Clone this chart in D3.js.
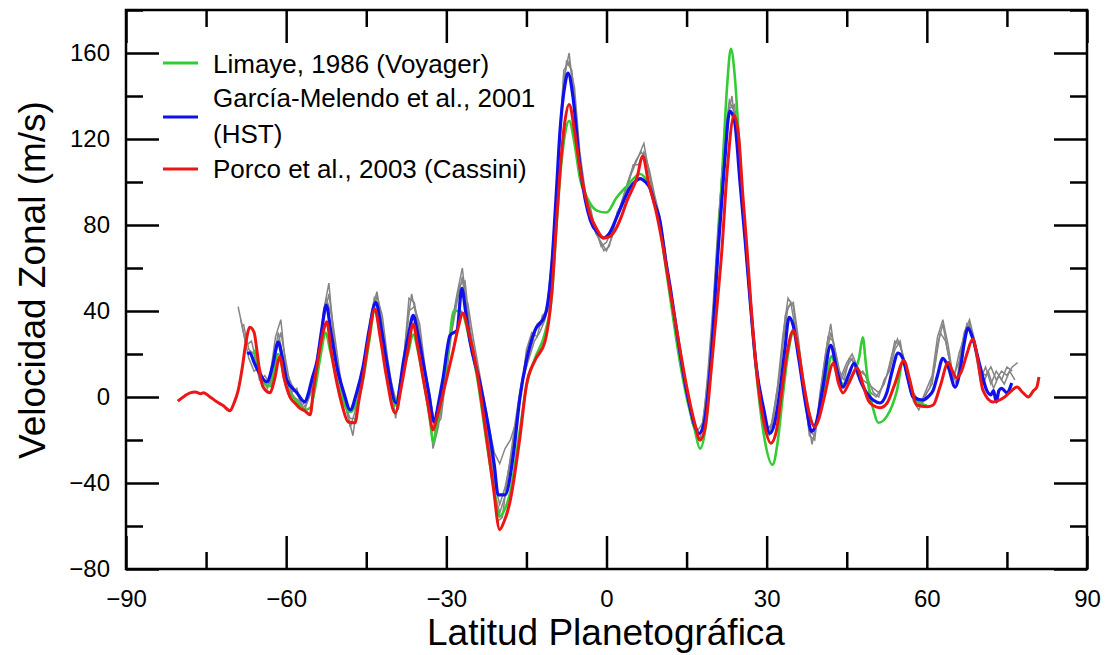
<!DOCTYPE html>
<meta charset="utf-8">
<style>
body { margin: 0; background: #fff; }
text { font-family: "Liberation Sans", Arial, sans-serif; fill: #000; }
.frame { fill: none; stroke: #000; stroke-width: 2.5px; }
.axis line { stroke: #000; stroke-width: 2.5px; }
.axis path { display: none; }
.axis text { font-size: 24px; }
</style>
<body>
<script src="https://cdnjs.cloudflare.com/ajax/libs/d3/7.8.5/d3.min.js"></script>
<script>
// ticks
var xMajor = [-90, -60, -30, 0, 30, 60, 90];
var xMinor = [-75, -45, -15, 15, 45, 75];
var yMajor = [-80, -40, 0, 40, 80, 120, 160];
var yMinor = [-60, -20, 20, 60, 100, 140, 180];

// Porco et al., 2003 (Cassini)  [lat, m/s]
var porco = [[-80.3,-1.9],[-79,0.5],[-78,1.9],[-77,2.3],[-76,1.5],[-75.5,2],[-74.5,0.5],[-73,-2.2],[-71.8,-4],[-70.5,-6.4],[-69.8,-3],[-69,3],[-68.2,14],[-67.5,26],[-66.8,32.5],[-66,30],[-65.5,22],[-64.8,9],[-64.3,4.6],[-63,2],[-62.2,8],[-61.2,18.6],[-60.4,9],[-59.3,0],[-58.3,-3],[-57.4,-5.3],[-56.5,-6.5],[-55.5,-8.3],[-54.9,3.2],[-54,18],[-53,31],[-52.4,35],[-51.6,22],[-50.5,6.5],[-49.5,-4],[-48.4,-11.6],[-47.1,-12],[-46.4,-2],[-45.6,9.3],[-44.6,26],[-43.4,41],[-42.4,28],[-41.2,9.3],[-39.6,-7.4],[-38.3,6.5],[-37.2,22],[-36.2,34],[-35.4,24],[-34.4,9.3],[-33.4,-4],[-32.5,-15.3],[-31.6,-8],[-30.6,1.9],[-28.7,21.8],[-27.8,32],[-26.9,39],[-25.8,30],[-24.3,12.5],[-22.4,-20],[-21.2,-42],[-20,-61.7],[-19.2,-58],[-18.1,-49],[-16.2,-18.5],[-15,5.5],[-13.4,17],[-11.5,26],[-10.2,50],[-9.4,80],[-8.7,105],[-7.8,128],[-7,136],[-6,124],[-5,106.7],[-4,94],[-3.1,85],[-1.8,78],[-0.6,74],[0.5,74.5],[1.6,77.5],[2.8,84],[3.8,91],[5.7,102],[6.8,112],[7.8,100.7],[9.4,85],[10.6,69.6],[12,48],[13.5,26],[15,5],[16.5,-12],[17.5,-20],[18.5,-14],[19.7,15],[20.8,45],[21.6,68],[22.6,105],[23.9,131],[24.8,120],[25.5,95],[26.3,69.6],[27,45],[28.2,10],[29.5,-12],[30.8,-21.5],[31.8,-16],[32.7,0],[33.8,20],[35,31],[35.8,24],[37,5],[38,-8],[39,-14],[39.8,-10],[40.8,0],[42.5,15.7],[43.5,6],[44.3,1.9],[45.5,7],[46.9,13.5],[48,6],[49,-1.4],[50,-4],[51.2,-5],[52.5,-3],[54,6],[55.7,17],[56.8,8],[58.1,-3.7],[60,-4.5],[61.2,-3.7],[62.5,5],[64,16],[64.8,12],[65.6,8.8],[66.5,12],[67.5,20],[68.6,27],[69.5,18],[70.5,3.2],[72.4,-2.3],[74.3,-0.5],[75.5,2],[76.9,4.6],[78,2],[79,0],[80,3],[80.6,4.6],[81,9.3]];

// García-Melendo et al., 2001 (HST)
var garcia = [[-67.3,20],[-66.8,20.5],[-66,16],[-65,11],[-63.6,7],[-62.5,15],[-61.5,25.5],[-60.7,18],[-59.9,8],[-58,2],[-56.5,-2.3],[-55.8,2],[-55.2,8],[-54.2,17],[-53.3,32],[-52.5,42.7],[-51.6,30],[-50.5,14],[-49.2,2],[-48,-6],[-46.8,2],[-45.6,14],[-44.4,32],[-43.2,44],[-42.2,32],[-41.2,17],[-39.4,-2.8],[-38,17],[-37,30],[-36.2,38],[-35.4,30],[-34.4,17],[-33.3,2],[-32.3,-11.6],[-31.4,-2],[-30.6,9],[-29.3,28.7],[-28,31],[-27.1,50.5],[-26.4,40],[-25.6,26.4],[-23.7,6.5],[-21.8,-18.5],[-21,-32],[-20.3,-45.5],[-19,-45.5],[-17.5,-27.8],[-16.2,0],[-15,17],[-13.4,31],[-11.5,38],[-10.2,63],[-9.4,95],[-8.7,124],[-7.8,145],[-7.2,150.7],[-6.3,140],[-5,108],[-4,92],[-3,82],[-1.5,76],[-0.6,74],[0.5,76],[1.9,83.5],[3,90],[4.4,97.4],[5.5,100.5],[6.3,101.6],[7.3,100],[8.1,97.4],[9,90],[10,82],[11,65],[12,50],[13.5,25],[15,3],[16.5,-13],[17.3,-17],[18.3,-12],[19.5,15],[20.9,68],[22,105],[23.1,133],[24,128],[25,100],[26,72],[27,42],[28,15],[29.4,-5],[30.6,-16.9],[31.5,-12],[32.5,3.2],[33.4,22],[34.2,37],[35,33],[36,18],[37.5,-6],[38.4,-16],[39.3,-12],[40.5,4],[42,24],[43.2,12],[44.3,4.6],[45.3,10],[46.4,15.7],[47.5,8],[49,0.9],[50,-1.5],[51.2,-2.8],[52.5,2],[53.5,12],[54.6,20.4],[55.5,18],[56.5,8],[57.4,0],[59.3,-1.4],[60.2,0],[61.2,3.2],[62,10],[63,18],[64,14],[65.3,4.6],[66.2,12],[67,25],[67.7,32],[68.5,28],[70,14],[71.2,3.2],[72,1],[72.5,3],[73,-2.3],[73.5,3],[74,4],[75,2],[75.9,6.5]];

// Limaye, 1986 (Voyager)
var limaye = [[-66,22],[-64.5,8],[-63,5],[-61.5,20],[-60,5],[-58,-2],[-56.5,-6],[-55.5,-5],[-54.5,5],[-53.5,20],[-52.6,30],[-51.8,22],[-50.5,8],[-49,-4],[-48,-7],[-47,-4],[-45.6,8],[-44.5,25],[-43.4,40],[-42.3,28],[-41,8],[-39.6,-4],[-38.5,8],[-37.2,20],[-36.2,29],[-35.2,20],[-34,4],[-33,-12],[-32.5,-21],[-31.7,-12],[-30.6,4],[-29.5,25],[-28.6,40],[-27.5,40],[-26.8,38],[-25.8,28],[-24.3,10],[-22.4,-22],[-21,-44],[-20,-55.6],[-19.2,-53],[-18,-44],[-16.2,-15],[-15,5],[-13.4,18],[-11.5,30],[-10.2,48],[-9.4,78],[-8.7,102],[-7.8,122],[-7,128.5],[-6,118],[-5,102],[-3.5,92],[-1.8,86.7],[0,85.8],[1.9,92.8],[3.8,98],[6.3,103.7],[8.1,97.4],[10,79],[11,62],[12,45],[13.5,20],[15,0],[16.5,-15],[17.5,-24],[18.5,-15],[19.7,20],[20.8,65],[21.8,110],[22.6,145],[23.3,162],[24,150],[24.8,120],[25.5,92],[26.3,65],[27,42],[28.2,8],[29.5,-18],[31.1,-31.5],[32,-22],[33,0],[34,20],[35,30],[35.8,24],[37,5],[38.2,-10],[39,-14],[40,-6],[41,6],[42.2,19],[43.2,10],[44.5,6],[45.5,8],[46.5,12],[47.3,18],[48,27.8],[48.6,15],[49.2,3],[50,-6],[50.9,-12],[52.5,-9],[54.4,3],[55.6,17],[56.5,10],[58,-2],[60,-4]];

// individual gray profiles (1 deg steps)
var gray1Start = -69;
var gray1 = [42,30,18,12,14,6,10,28,36,12,6,2,-4,0,6,18,40,53,26,8,-2,-14,-6,8,22,40,49,34,14,4,-6,16,46,44,30,12,0,-18,-6,14,34,48,60,38,24,10,-2,-18,-40,-50,-42,-30,-14,4,14,28,32,34,44,72,108,148,160,138,110,94,86,78,70,72,78,84,92,100,106,112,118,104,92,80,64,50,30,18,4,-10,-16,-12,8,40,80,118,138,132,100,76,44,18,-4,-16,-12,4,28,46,42,22,4,-18,-20,2,20,34,16,10,16,20,14,8,6,4,2,6,14,26,24,14,4,0,-4,2,6,24,34,20,10,16,30,36,26,12,10,14,8,12,10,14,16];
var gray2Start = -68.5;
var gray2 = [36,24,26,16,8,4,14,30,18,4,0,-2,-6,2,12,28,46,38,12,2,-8,-18,0,14,30,46,40,22,8,-10,6,30,48,36,18,4,-24,-14,6,22,40,52,54,30,16,4,-10,-28,-58,-56,-36,-22,-6,10,18,26,30,36,52,88,130,156,152,124,100,90,80,74,68,70,80,88,96,104,110,114,110,98,86,72,58,40,24,10,-4,-14,-20,-4,22,60,100,128,140,118,88,60,30,6,-10,-18,-4,12,38,44,30,12,-8,-22,-10,10,28,26,12,8,18,16,12,10,2,0,4,10,20,27,20,8,-2,-6,0,4,14,30,26,14,6,22,34,30,18,6,12,4,10,6,12,8];
var gray3Start = -26;
var gray3 = [44,28,14,0,-14,-26,-31,-24,-20,-12,2,22,30,28,38,40,58];
var gray4Start = -68;
var gray4 = [34,22,20,8,10,6,20,30,16,2,4,-6,-2,4,22,36,48,30,12,-4,-10,-10,4,18,36,47,38,18,2,-4,12,40,42,34,14,-2,-14,-10,10,30,44,56,34,20,8,-6,-22,-44,-54,-46,-28,-10,6,16,24,34,36,42,66,112,152,156,144,114,96,88,76,72,68,74,86,90,98,108,108,114,106,94,84,68,46,32,14,2,-12,-18,-16,12,44,84,112,134,136,104,70,40,14,-6,-14,-14,2,24,42,44,26,2,-16,-18,-2,16,30,20,8,14,18,10,12,8,2,0,8,12,22,26,12,2,-2,-2,4,10,28,36,24,8,20,28,34,22,8,14,6,12,8,14,12];

var width = 1106, height = 655;
var svg = d3.select("body").append("svg")
    .attr("width", width)
    .attr("height", height);

var x = d3.scaleLinear().domain([-90, 90]).range([126, 1087]);
var y = d3.scaleLinear().domain([-80, 180]).range([569, 10]);

function toPairs(start, vals) {
  return vals.map(function(v, i) { return [start + i, v]; });
}

var smooth = d3.line()
    .x(function(d) { return x(d[0]); })
    .y(function(d) { return y(d[1]); })
    .curve(d3.curveMonotoneX);
var rough = d3.line()
    .x(function(d) { return x(d[0]); })
    .y(function(d) { return y(d[1]); });

var plot = svg.append("g");

[toPairs(gray1Start, gray1), toPairs(gray2Start, gray2), toPairs(gray3Start, gray3), toPairs(gray4Start, gray4)].forEach(function(g) {
  plot.append("path").attr("d", rough(g))
    .attr("fill", "none").attr("stroke", "#858585").attr("stroke-width", 1.5);
});

var series = [
  {data: limaye, color: "#33cc33", w: 2.6},
  {data: garcia, color: "#1010ee", w: 3.2},
  {data: porco,  color: "#ee1515", w: 3.0}
];
series.forEach(function(s) {
  plot.append("path").attr("d", smooth(s.data))
    .attr("fill", "none").attr("stroke", s.color)
    .attr("stroke-width", s.w).attr("stroke-linejoin", "round");
});

// axes with inward ticks
svg.append("g").attr("class", "axis").attr("transform", "translate(0,569)")
  .call(d3.axisBottom(x).tickValues(xMajor).tickSize(-33).tickPadding(0).tickFormat(d3.format("d")))
  .selectAll("text").attr("y", 38).attr("dy", 0);
svg.append("g").attr("class", "axis").attr("transform", "translate(0,569)")
  .call(d3.axisBottom(x).tickValues(xMinor).tickSize(-17).tickFormat(""));
svg.append("g").attr("class", "axis").attr("transform", "translate(0,10)")
  .call(d3.axisTop(x).tickValues(xMajor).tickSize(-33).tickFormat(""));
svg.append("g").attr("class", "axis").attr("transform", "translate(0,10)")
  .call(d3.axisTop(x).tickValues(xMinor).tickSize(-17).tickFormat(""));

svg.append("g").attr("class", "axis").attr("transform", "translate(126,0)")
  .call(d3.axisLeft(y).tickValues(yMajor).tickSize(-33).tickPadding(16).tickFormat(d3.format("d")));
svg.append("g").attr("class", "axis").attr("transform", "translate(126,0)")
  .call(d3.axisLeft(y).tickValues(yMinor).tickSize(-17).tickFormat(""));
svg.append("g").attr("class", "axis").attr("transform", "translate(1087,0)")
  .call(d3.axisRight(y).tickValues(yMajor).tickSize(-33).tickFormat(""));
svg.append("g").attr("class", "axis").attr("transform", "translate(1087,0)")
  .call(d3.axisRight(y).tickValues(yMinor).tickSize(-17).tickFormat(""));

svg.append("rect").attr("class", "frame")
  .attr("x", 126).attr("y", 10).attr("width", 1087 - 126).attr("height", 569 - 10);

// titles
svg.append("text").attr("x", 606).attr("y", 645)
  .attr("text-anchor", "middle").style("font-size", "37px")
  .text("Latitud Planetográfica");
svg.append("text").attr("transform", "translate(45,280) rotate(-90)")
  .attr("text-anchor", "middle").style("font-size", "37px")
  .text("Velocidad Zonal (m/s)");

// legend
var legend = [
  {label: ["Limaye, 1986 (Voyager)"], color: "#33cc33", ly: 63, ty: 73},
  {label: ["García-Melendo et al., 2001", "(HST)"], color: "#1010ee", ly: 117, ty: 107},
  {label: ["Porco et al., 2003 (Cassini)"], color: "#ee1515", ly: 169, ty: 178}
];
legend.forEach(function(l) {
  svg.append("line").attr("x1", 163).attr("x2", 198).attr("y1", l.ly).attr("y2", l.ly)
    .attr("stroke", l.color).attr("stroke-width", 3);
  l.label.forEach(function(t, i) {
    svg.append("text").attr("x", 213).attr("y", l.ty + i * 36)
      .style("font-size", "26px").text(t);
  });
});
</script>
</body>
